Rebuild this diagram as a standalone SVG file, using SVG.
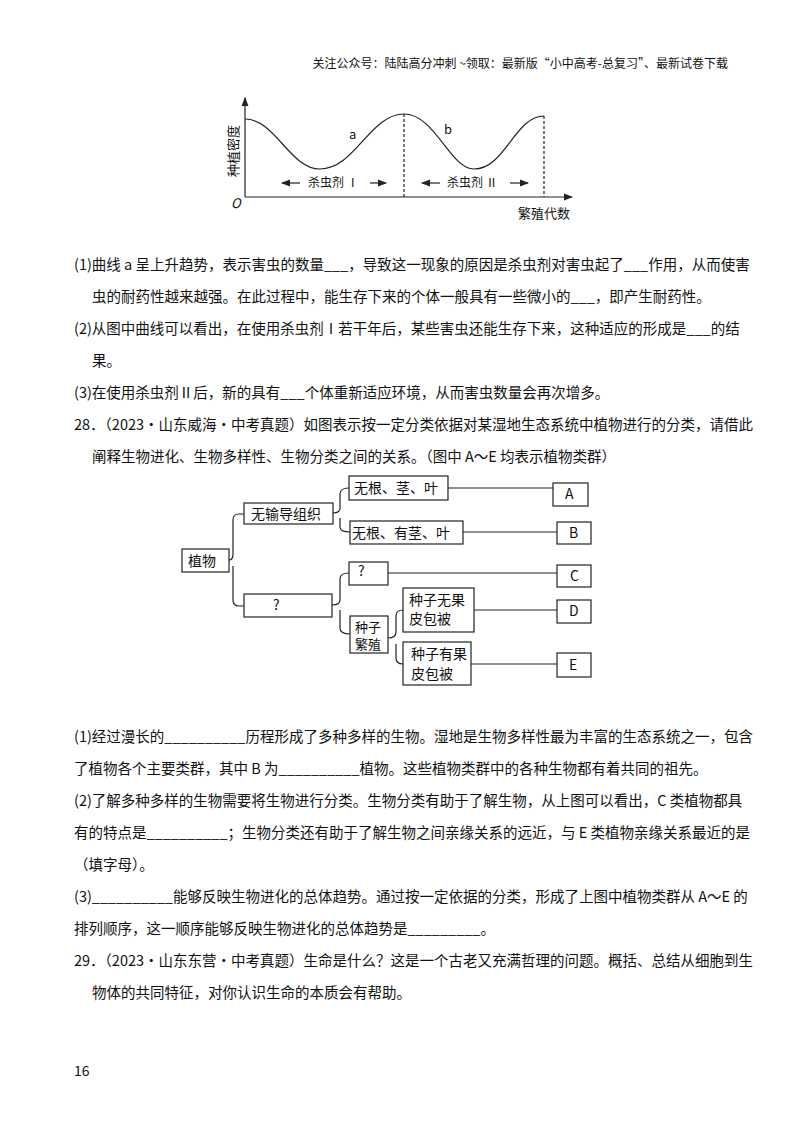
<svg xmlns="http://www.w3.org/2000/svg" width="800" height="1132" viewBox="0 0 800 1132">
<style>
text{font-family:"Noto Sans CJK SC","Liberation Serif",serif;fill:#111}
.t{font-size:14.5px}
.b{fill:#fff;stroke:#222;stroke-width:1.2}
.l{fill:none;stroke:#222;stroke-width:1.2}
.n{font-size:14px}
</style>
<defs><marker id="ar" markerWidth="8" markerHeight="8" refX="7" refY="4" orient="auto"><path d="M0,1 L8,4 L0,7 Z" fill="#222"/></marker></defs>
<rect width="800" height="1132" fill="#fff"/>
<text x="728" y="68" font-size="12" text-anchor="end">关注公众号：陆陆高分冲刺 ~领取：最新版“小中高考-总复习”、最新试卷下载</text>
<g id="chart">
<line class="l" x1="245" y1="197" x2="245" y2="98" marker-end="url(#ar)"/>
<line class="l" x1="245" y1="197" x2="572" y2="197" marker-end="url(#ar)"/>
<path class="l" d="M245,119 C275,119 290,169 320,169 C355,169 370,114 404,114 C435,114 450,169 474,169 C505,169 515,116 544,116"/>
<line class="l" x1="404" y1="114" x2="404" y2="197" stroke-dasharray="3,2"/>
<line class="l" x1="544" y1="116" x2="544" y2="197" stroke-dasharray="3,2"/>
<text x="0" y="0" font-size="13" transform="translate(238,177) rotate(-90)">种植密度</text>
<text x="231" y="208" font-size="13" font-style="italic" font-family="Liberation Serif">O</text>
<text x="349" y="139" font-size="13" font-family="Liberation Serif">a</text>
<text x="444" y="134" font-size="13" font-family="Liberation Serif">b</text>
<text x="308" y="187" font-size="12">杀虫剂 Ⅰ</text>
<text x="447" y="187" font-size="12">杀虫剂 Ⅱ</text>
<line class="l" x1="300" y1="183" x2="282" y2="183" marker-end="url(#ar)"/>
<line class="l" x1="370" y1="183" x2="386" y2="183" marker-end="url(#ar)"/>
<line class="l" x1="440" y1="183" x2="422" y2="183" marker-end="url(#ar)"/>
<line class="l" x1="510" y1="183" x2="528" y2="183" marker-end="url(#ar)"/>
<text x="518" y="218" font-size="13">繁殖代数</text>
</g>
<g class="t">
<text x="74" y="270" class="t">(1)曲线 a 呈上升趋势，表示害虫的数量___，导致这一现象的原因是杀虫剂对害虫起了___作用，从而使害</text>
<text x="92" y="302" class="t">虫的耐药性越来越强。在此过程中，能生存下来的个体一般具有一些微小的___，即产生耐药性。</text>
<text x="74" y="334" class="t">(2)从图中曲线可以看出，在使用杀虫剂Ⅰ若干年后，某些害虫还能生存下来，这种适应的形成是___的结</text>
<text x="92" y="366" class="t">果。</text>
<text x="74" y="398" class="t">(3)在使用杀虫剂Ⅱ后，新的具有___个体重新适应环境，从而害虫数量会再次增多。</text>
<text x="74" y="430" class="t">28．（2023·山东威海·中考真题）如图表示按一定分类依据对某湿地生态系统中植物进行的分类，请借此</text>
<text x="92" y="462" class="t">阐释生物进化、生物多样性、生物分类之间的关系。（图中 A～E 均表示植物类群）</text>
</g>
<g id="connectors">
<path class="l" d="M229,560 Q233,560 233,554 L233,520 Q233,514 239,514 L244,514 M233,566 L233,600 Q233,606 239,606 L244,606"/>
<path class="l" d="M333,513 Q340,513 340,508 L340,494 Q340,488 349,488 M340,518 L340,527 Q340,532 350,532"/>
<path class="l" d="M332,605 Q340,605 340,600 L340,579 Q340,573 349,573 M340,610 L340,628 Q340,634 350,634"/>
<path class="l" d="M388,638 Q396,638 396,632 L396,616 Q396,610 403,610 M396,644 L396,658 Q396,664 403,664"/>
<line class="l" x1="448" y1="488" x2="553" y2="488"/>
<line class="l" x1="463" y1="532" x2="557" y2="532"/>
<line class="l" x1="388" y1="573" x2="557" y2="573"/>
<line class="l" x1="474" y1="610" x2="557" y2="610"/>
<line class="l" x1="471" y1="664" x2="557" y2="664"/>
</g>
<g id="n-zw"><rect class="b" x="182" y="549" width="47" height="23"/><text class="n" x="188" y="566">植物</text></g>
<g id="n-wsd"><rect class="b" x="244" y="503" width="89" height="21"/><text class="n" x="251" y="519">无输导组织</text></g>
<g id="n-q1"><rect class="b" x="244" y="594" width="88" height="23"/><text class="n" x="273" y="610" font-family="Liberation Serif">?</text></g>
<g id="n-wgjy"><rect class="b" x="349" y="476" width="99" height="24"/><text class="n" x="354" y="493">无根、茎、叶</text></g>
<g id="n-wgyj"><rect class="b" x="350" y="521" width="113" height="23"/><text class="n" x="352" y="538">无根、有茎、叶</text></g>
<g id="n-q2"><rect class="b" x="349" y="562" width="39" height="23"/><text class="n" x="358" y="576" font-family="Liberation Serif">?</text></g>
<g id="n-zzfz"><rect class="b" x="350" y="616" width="38" height="37"/><text x="355" y="632" font-size="13">种子</text><text x="355" y="649" font-size="13">繁殖</text></g>
<g id="n-wgp"><rect class="b" x="403" y="588" width="71" height="44"/><text class="n" x="409" y="605">种子无果</text><text class="n" x="409" y="624">皮包被</text></g>
<g id="n-ygp"><rect class="b" x="403" y="642" width="68" height="43"/><text class="n" x="411" y="659">种子有果</text><text class="n" x="411" y="679">皮包被</text></g>
<g id="n-A"><rect class="b" x="553" y="483" width="35" height="23"/><text class="n" x="565" y="499" font-family="Liberation Serif">A</text></g>
<g id="n-B"><rect class="b" x="557" y="522" width="34" height="22"/><text class="n" x="569" y="538" font-family="Liberation Serif">B</text></g>
<g id="n-C"><rect class="b" x="557" y="565" width="34" height="22"/><text class="n" x="570" y="581" font-family="Liberation Serif">C</text></g>
<g id="n-D"><rect class="b" x="557" y="600" width="34" height="23"/><text class="n" x="569" y="616" font-family="Liberation Serif">D</text></g>
<g id="n-E"><rect class="b" x="557" y="653" width="34" height="24"/><text class="n" x="569" y="670" font-family="Liberation Serif">E</text></g>
<g>
<text x="74" y="742" class="t">(1)经过漫长的__________历程形成了多种多样的生物。湿地是生物多样性最为丰富的生态系统之一，包含</text>
<text x="74" y="774" class="t">了植物各个主要类群，其中 B 为__________植物。这些植物类群中的各种生物都有着共同的祖先。</text>
<text x="74" y="806" class="t">(2)了解多种多样的生物需要将生物进行分类。生物分类有助于了解生物，从上图可以看出，C 类植物都具</text>
<text x="74" y="838" class="t">有的特点是__________；生物分类还有助于了解生物之间亲缘关系的远近，与 E 类植物亲缘关系最近的是</text>
<text x="74" y="870" class="t">（填字母）。</text>
<text x="74" y="902" class="t">(3)__________能够反映生物进化的总体趋势。通过按一定依据的分类，形成了上图中植物类群从 A～E 的</text>
<text x="74" y="934" class="t">排列顺序，这一顺序能够反映生物进化的总体趋势是_________。</text>
<text x="74" y="966" class="t">29．（2023·山东东营·中考真题）生命是什么？这是一个古老又充满哲理的问题。概括、总结从细胞到生</text>
<text x="92" y="998" class="t">物体的共同特征，对你认识生命的本质会有帮助。</text>
<text x="74" y="1076" font-size="14" font-family="Liberation Serif">16</text>
</g>
</svg>
